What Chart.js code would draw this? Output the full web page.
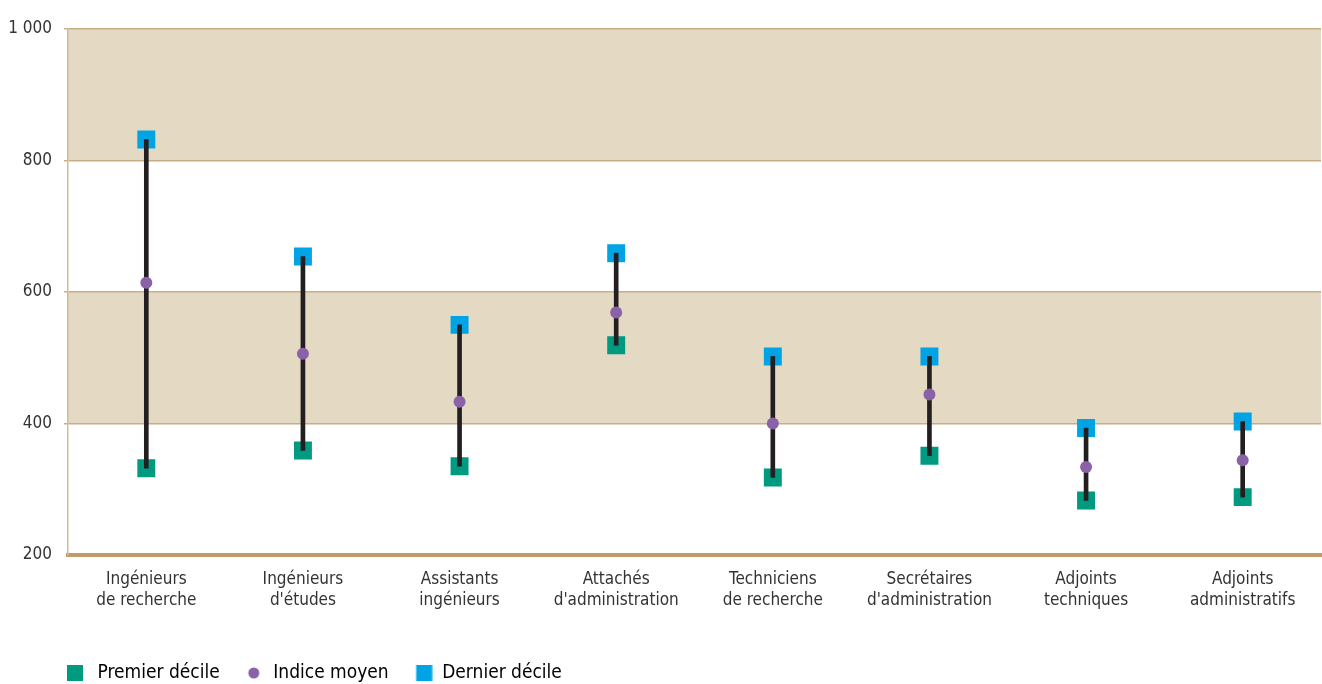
<!DOCTYPE html>
<html>
<head>
<meta charset="utf-8">
<script src="https://cdn.jsdelivr.net/npm/chart.js@4/dist/chart.umd.min.js"></script>
<style>
  html, body { margin: 0; padding: 0; background: #ffffff; overflow: hidden; }
  #wrap { position: relative; width: 1322px; height: 684px; }
  canvas { display: block; }
</style>
</head>
<body>
<div id="wrap"><canvas id="c" width="1322" height="684"></canvas></div>
<script>
const categories = [
  ['Ingénieurs', 'de recherche'],
  ['Ingénieurs', "d'études"],
  ['Assistants', 'ingénieurs'],
  ['Attachés', "d'administration"],
  ['Techniciens', 'de recherche'],
  ['Secrétaires', "d'administration"],
  ['Adjoints', 'techniques'],
  ['Adjoints', 'administratifs']
];
const premierDecile = [332, 359, 335, 519, 318, 351, 283, 288];
const indiceMoyen   = [614, 506, 433, 569, 400, 444, 334, 344];
const dernierDecile = [832, 654, 550, 659, 502, 502, 393, 403];
const yTickValues = [200, 400, 600, 800, 1000];
const bands = [[400, 600], [800, 1000]];
const seriesNames = ['Premier décile', 'Indice moyen', 'Dernier décile'];

const GREEN = '#009a80', PURPLE = '#8a62a8', BLUE = '#00a3e3', STEM = '#231f20';
const BAND = '#e4d9c3', GRID = '#c8ad87', AXIS = '#c29c68';
const FONT = "'Liberation Sans Narrow', 'DejaVu Sans Condensed', 'Liberation Sans', sans-serif";

const ranges = premierDecile.map((v, i) => [v, dernierDecile[i]]);

function legendIcon(kind, color, cx) {
  const W = 40, H = 20;
  const cv = document.createElement('canvas');
  cv.width = W; cv.height = H;
  const g = cv.getContext('2d');
  g.fillStyle = color;
  const cy = H / 2;
  if (kind === 'rect') {
    g.fillRect(cx - 8, cy - 8, 16, 16);
  } else {
    g.beginPath(); g.arc(cx, cy, 5.5, 0, Math.PI * 2); g.fill();
  }
  return cv;
}
const legendIcons = [legendIcon('rect', GREEN, 27), legendIcon('circle', PURPLE, 30), legendIcon('rect', BLUE, 31.5)];
const legendColors = [GREEN, PURPLE, BLUE];

const bandPlugin = {
  id: 'bands',
  beforeDraw(chart) {
    const { ctx, chartArea, scales } = chart;
    const y = scales.y;
    ctx.save();
    ctx.fillStyle = BAND;
    bands.forEach(([a, b]) => {
      const top = y.getPixelForValue(b), bot = y.getPixelForValue(a);
      ctx.fillRect(chartArea.left, top, chartArea.right - chartArea.left, bot - top);
    });
    ctx.restore();
  }
};

const legendPlace = {
  id: 'legendPlace',
  afterLayout(chart) {
    const lg = chart.legend;
    if (!lg) return;
    const shift = (684 - 8) - (lg.top + lg.height / 2);
    lg.left = 44;
    lg.top += shift;
    lg.bottom += shift;
  }
};

new Chart(document.getElementById('c'), {
  data: {
    labels: categories,
    datasets: [
      { type: 'line', label: seriesNames[0], data: premierDecile, showLine: false,
        pointStyle: 'rect', pointRadius: 12.7, pointHoverRadius: 12.7, pointBorderWidth: 0,
        pointBackgroundColor: GREEN, backgroundColor: GREEN, borderColor: GREEN, order: 3 },
      { type: 'line', label: seriesNames[2], data: dernierDecile, showLine: false,
        pointStyle: 'rect', pointRadius: 12.7, pointHoverRadius: 12.7, pointBorderWidth: 0,
        pointBackgroundColor: BLUE, backgroundColor: BLUE, borderColor: BLUE, order: 3 },
      { type: 'bar', label: 'range', data: ranges, backgroundColor: STEM,
        barThickness: 4, borderWidth: 0, order: 2 },
      { type: 'line', label: seriesNames[1], data: indiceMoyen, showLine: false,
        pointStyle: 'circle', pointRadius: 6, pointHoverRadius: 6, pointBorderWidth: 0,
        pointBackgroundColor: PURPLE, backgroundColor: PURPLE, borderColor: PURPLE, order: 1 }
    ]
  },
  options: {
    responsive: false,
    animation: false,
    events: [],
    layout: { autoPadding: false, padding: { left: 0, right: 1, top: 29, bottom: 0 } },
    plugins: {
      tooltip: { enabled: false },
      legend: {
        position: 'bottom',
        align: 'start',
        labels: {
          usePointStyle: true,
          pointStyleWidth: 40,
          padding: 4,
          color: '#333333',
          font: { family: FONT, size: 19 },
          generateLabels() {
            return seriesNames.map((t, i) => ({
              text: t, pointStyle: legendIcons[i], fillStyle: legendColors[i],
              strokeStyle: legendColors[i], lineWidth: 0, hidden: false, datasetIndex: i
            }));
          }
        }
      }
    },
    scales: {
      x: {
        type: 'category',
        offset: true,
        grid: { display: false },
        border: { display: true, color: AXIS, width: 4 },
        ticks: { color: '#333333', font: { family: FONT, size: 17, lineHeight: 1.25 }, padding: 6, maxRotation: 0, autoSkip: false },
        afterFit(s) { s.height = 96; s.paddingLeft = 0; s.paddingRight = 0; }
      },
      y: {
        min: 200, max: 1000,
        afterBuildTicks(s) { s.ticks = yTickValues.map(v => ({ value: v })); },
        ticks: {
          color: '#333333', font: { family: FONT, size: 17 }, padding: 12,
          callback: v => String(v).replace(/\B(?=(\d{3})+(?!\d))/g, ' ')
        },
        grid: {
          color: ctx => (ctx.tick && ctx.tick.value === 200) ? 'rgba(0,0,0,0)' : GRID,
          lineWidth: 1.5, tickLength: 4, drawOnChartArea: true
        },
        border: { display: true, color: '#d2bc98', width: 1.5 },
        afterFit(s) { s.width = 68; }
      }
    }
  },
  plugins: [bandPlugin, legendPlace]
});
</script>
</body>
</html>
